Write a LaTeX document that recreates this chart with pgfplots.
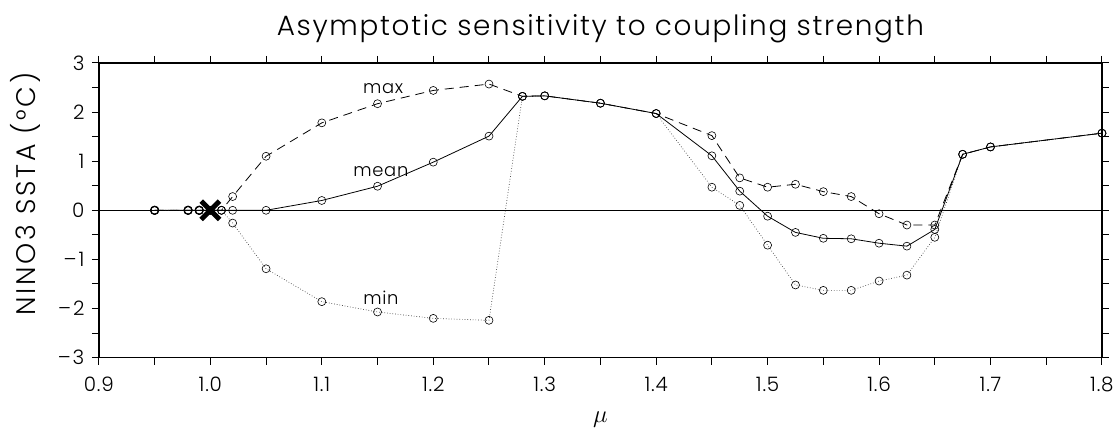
\documentclass[border=0pt]{standalone}
\usepackage{fontspec}
\setmainfont{Poppins Light}[LetterSpace=4]
\newfontfamily\titlefont{Poppins Light}[LetterSpace=6]
\newfontfamily\ylabfont{Poppins Light}[LetterSpace=10]
\usepackage{pgfplots}
\pgfplotsset{compat=1.18}
\usepackage{pgfplotstable}

\pgfplotstableread{
mu val
0.95 0
0.98 0
0.99 0
1.00 0
1.01 0
1.02 0.28
1.05 1.10
1.10 1.78
1.15 2.17
1.20 2.44
1.25 2.57
1.28 2.32
1.30 2.33
1.35 2.18
1.40 1.97
1.45 1.52
1.475 0.66
1.50 0.47
1.525 0.53
1.55 0.38
1.575 0.28
1.60 -0.07
1.625 -0.30
1.65 -0.30
1.675 1.14
1.70 1.29
1.80 1.57
}\maxdata

\pgfplotstableread{
mu val
0.95 0
0.98 0
0.99 0
1.00 0
1.01 0
1.02 0
1.05 0
1.10 0.20
1.15 0.49
1.20 0.98
1.25 1.51
1.28 2.32
1.30 2.33
1.35 2.18
1.40 1.97
1.45 1.11
1.475 0.39
1.50 -0.12
1.525 -0.45
1.55 -0.57
1.575 -0.58
1.60 -0.67
1.625 -0.73
1.65 -0.39
1.675 1.14
1.70 1.29
1.80 1.57
}\meandata

\pgfplotstableread{
mu val
0.95 0
0.98 0
0.99 0
1.00 0
1.01 0
1.02 -0.26
1.05 -1.19
1.10 -1.86
1.15 -2.07
1.20 -2.20
1.25 -2.24
1.28 2.32
1.30 2.33
1.35 2.18
1.40 1.97
1.45 0.47
1.475 0.10
1.50 -0.71
1.525 -1.52
1.55 -1.63
1.575 -1.63
1.60 -1.44
1.625 -1.32
1.65 -0.55
1.675 1.14
1.70 1.29
1.80 1.57
}\mindata

\begin{document}
\begin{tikzpicture}
\begin{axis}[
  width=1004bp, height=295bp, scale only axis,
  xmin=0.9, xmax=1.8, ymin=-3, ymax=3,
  xtick={0.9,1.0,1.1,1.2,1.3,1.4,1.5,1.6,1.7,1.8},
  xticklabels={0.9,1.0,1.1,1.2,1.3,1.4,1.5,1.6,1.7,1.8},
  minor xtick={0.95,1.05,1.15,1.25,1.35,1.45,1.55,1.65,1.75},
  ytick={-3,-2,-1,0,1,2,3},
  yticklabels={–\hspace{2bp}3,–\hspace{2bp}2,–\hspace{2bp}1,0,1,2,3},
  minor ytick={-2.5,-1.5,-0.5,0.5,1.5,2.5},
  tick align=outside,
  major tick length=7bp, minor tick length=7bp,
  axis line style={line width=1.5pt},
  tick style={line width=1pt, black},
  ticklabel style={font=\fontsize{20}{20}\selectfont},
  xticklabel style={yshift=-9bp},
  yticklabel style={xshift=-4bp},
  /pgf/number format/assume math mode=true,
  title={Asymptotic sensitivity to coupling strength},
  title style={font=\titlefont\fontsize{28}{28}\selectfont, at={(axis description cs:0.5,1.097)}, anchor=center},
  xlabel={$\mu$},
  xlabel style={font=\fontsize{28}{28}\selectfont, at={(axis description cs:0.5,-0.21)}, anchor=center},
  ylabel={NINO3 SSTA (°C)},
  ylabel style={font=\ylabfont\fontsize{27}{27}\selectfont, at={(axis description cs:-0.0737,0.556)}, anchor=center},
  clip=false,
]
\addplot[black, line width=1pt, forget plot] coordinates {(0.9,0) (1.8,0)};
\addplot[black!75, line width=0.7pt, dotted, mark=o, mark size=4bp, mark options={solid, black, line width=0.6pt}] table[x=mu, y=val] {\mindata};
\addplot[black, line width=0.8pt, dash pattern=on 9bp off 6bp, mark=o, mark size=4bp, mark options={solid, line width=0.6pt}] table[x=mu, y=val] {\maxdata};
\addplot[black, line width=0.8pt, mark=o, mark size=4bp, mark options={solid, line width=0.6pt}] table[x=mu, y=val] {\meandata};
\addplot[only marks, black, mark=o, mark size=4bp, mark options={line width=1.3pt}] coordinates {(0.95,0) (0.98,0) (0.99,0)};
\addplot[only marks, black, mark=x, mark size=13bp, mark options={line width=5bp}] coordinates {(1.0,0)};
\node[font=\fontsize{18}{18}\selectfont] at (axis cs:1.155,2.47) {max};
\node[font=\fontsize{18}{18}\selectfont] at (axis cs:1.153,0.79) {mean};
\node[font=\fontsize{18}{18}\selectfont] at (axis cs:1.153,-1.78) {min};
\end{axis}
\path ([shift={(-99bp,-81bp)}]current axis.south west) rectangle ([shift={(14bp,63bp)}]current axis.north east);
\end{tikzpicture}
\end{document}
